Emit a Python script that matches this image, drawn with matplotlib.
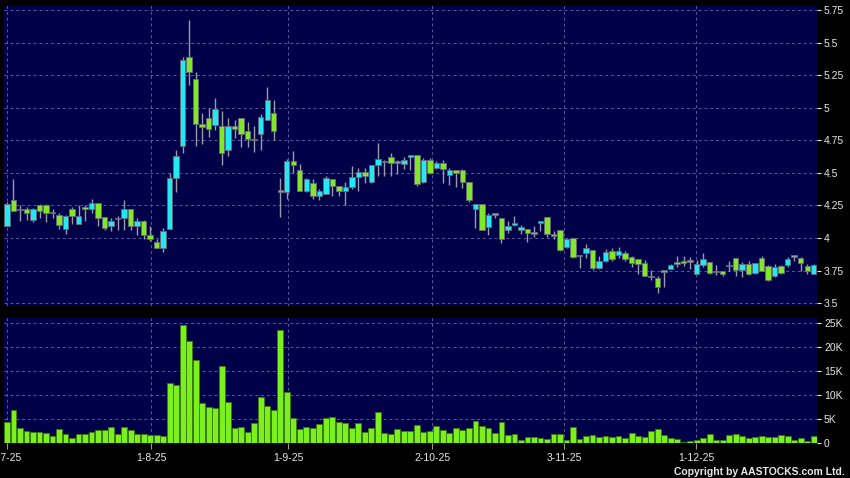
import matplotlib
matplotlib.use("Agg")
import matplotlib.pyplot as plt
import numpy as np
from matplotlib.ticker import FixedLocator, FuncFormatter

plt.rcParams['font.family'] = ['Liberation Sans', 'DejaVu Sans']

# ---------------- data ----------------
opens = [4.09, 4.29, 4.22, 4.22, 4.14, 4.25, 4.25, 4.20, 4.18, 4.07,
         4.22, 4.11, 4.24, 4.22, 4.27, 4.16, 4.09, 4.15, 4.15, 4.22,
         4.09, 4.13, 4.02, 3.97, 3.92, 4.07, 4.46, 4.71, 5.39, 5.22,
         4.88, 4.92, 4.87, 4.86, 4.68, 4.86, 4.92, 4.82, 4.755, 4.80,
         4.91, 4.96, 4.36, 4.35, 4.59, 4.52, 4.36, 4.42, 4.32, 4.34,
         4.45, 4.40, 4.36, 4.39, 4.47, 4.51, 4.43, 4.56, 4.59, 4.62,
         4.585, 4.57, 4.62, 4.635, 4.43, 4.60, 4.54, 4.58, 4.485, 4.52,
         4.52, 4.43, 4.22, 4.26, 4.085, 4.185, 4.15, 4.06, 4.10, 4.06,
         4.07, 4.04, 4.115, 4.16, 4.025, 4.06, 3.93, 4.00, 3.865, 3.885,
         3.905, 3.77, 3.82, 3.90, 3.87, 3.885, 3.855, 3.835, 3.805, 3.705,
         3.695, 3.745, 3.765, 3.80, 3.825, 3.825, 3.72, 3.79, 3.815, 3.737,
         3.745, 3.79, 3.85, 3.755, 3.80, 3.73, 3.85, 3.785, 3.705, 3.785,
         3.79, 3.86, 3.85, 3.785, 3.725]
highs = [4.28, 4.45, 4.25, 4.24, 4.23, 4.26, 4.26, 4.22, 4.19, 4.18,
         4.24, 4.25, 4.25, 4.30, 4.27, 4.16, 4.15, 4.17, 4.29, 4.22,
         4.15, 4.14, 4.09, 3.99, 4.08, 4.50, 4.68, 5.39, 5.68, 5.28,
         4.96, 5.00, 5.08, 4.98, 4.92, 4.91, 4.92, 4.89, 4.86, 4.95,
         5.16, 5.06, 4.46, 4.61, 4.67, 4.57, 4.46, 4.45, 4.38, 4.48,
         4.45, 4.40, 4.43, 4.55, 4.54, 4.54, 4.56, 4.73, 4.60, 4.65,
         4.60, 4.62, 4.64, 4.635, 4.615, 4.615, 4.59, 4.60, 4.54, 4.52,
         4.53, 4.43, 4.26, 4.26, 4.19, 4.19, 4.15, 4.13, 4.17, 4.10,
         4.07, 4.095, 4.13, 4.16, 4.05, 4.065, 4.00, 4.00, 3.87, 3.955,
         3.905, 3.86, 3.915, 3.92, 3.93, 3.90, 3.865, 3.835, 3.83, 3.755,
         3.705, 3.745, 3.80, 3.86, 3.86, 3.855, 3.83, 3.885, 3.815, 3.79,
         3.75, 3.825, 3.85, 3.815, 3.825, 3.81, 3.86, 3.79, 3.80, 3.79,
         3.855, 3.865, 3.855, 3.80, 3.80]
lows = [4.09, 4.21, 4.13, 4.14, 4.12, 4.15, 4.12, 4.15, 4.07, 4.03,
        4.11, 4.11, 4.13, 4.19, 4.09, 4.06, 4.05, 4.06, 4.06, 4.06,
        4.02, 3.99, 3.98, 3.92, 3.89, 4.07, 4.35, 4.65, 5.18, 4.71,
        4.72, 4.78, 4.83, 4.56, 4.63, 4.77, 4.70, 4.70, 4.66, 4.68,
        4.91, 4.75, 4.16, 4.30, 4.50, 4.36, 4.35, 4.30, 4.29, 4.34,
        4.32, 4.32, 4.25, 4.38, 4.36, 4.42, 4.42, 4.48, 4.48, 4.48,
        4.49, 4.53, 4.52, 4.40, 4.42, 4.495, 4.53, 4.42, 4.41, 4.39,
        4.385, 4.28, 4.08, 4.06, 4.02, 4.15, 3.96, 4.04, 4.09, 4.03,
        3.97, 4.01, 4.05, 4.01, 3.99, 3.90, 3.92, 3.85, 3.77, 3.845,
        3.755, 3.76, 3.815, 3.82, 3.845, 3.825, 3.78, 3.72, 3.705, 3.675,
        3.58, 3.62, 3.765, 3.78, 3.785, 3.765, 3.72, 3.78, 3.72, 3.715,
        3.705, 3.745, 3.705, 3.70, 3.715, 3.725, 3.745, 3.67, 3.70, 3.72,
        3.78, 3.825, 3.75, 3.725, 3.725]
closes = [4.26, 4.21, 4.22, 4.19, 4.22, 4.21, 4.19, 4.19, 4.10, 4.17,
          4.17, 4.17, 4.22, 4.27, 4.15, 4.08, 4.13, 4.15, 4.22, 4.09,
          4.13, 4.02, 3.99, 3.92, 4.05, 4.46, 4.63, 5.37, 5.28, 4.88,
          4.85, 4.84, 4.99, 4.65, 4.86, 4.84, 4.80, 4.76, 4.75, 4.93,
          5.06, 4.82, 4.36, 4.59, 4.56, 4.36, 4.45, 4.32, 4.36, 4.46,
          4.40, 4.36, 4.39, 4.47, 4.51, 4.48, 4.56, 4.61, 4.59, 4.58,
          4.585, 4.60, 4.635, 4.415, 4.60, 4.50, 4.58, 4.53, 4.52, 4.50,
          4.43, 4.29, 4.26, 4.06, 4.18, 4.185, 3.99, 4.09, 4.11, 4.085,
          4.04, 4.04, 4.13, 4.03, 4.025, 3.905, 3.99, 3.855, 3.865, 3.92,
          3.77, 3.82, 3.89, 3.835, 3.90, 3.835, 3.805, 3.80, 3.705, 3.705,
          3.62, 3.745, 3.79, 3.815, 3.805, 3.825, 3.80, 3.835, 3.73, 3.747,
          3.72, 3.79, 3.755, 3.80, 3.72, 3.805, 3.75, 3.68, 3.78, 3.73,
          3.835, 3.86, 3.805, 3.745, 3.79]
volumes_k = [4.4, 6.9, 3.1, 2.5, 2.3, 2.4, 2.2, 1.6, 2.9, 1.9,
             1.0, 2.0, 2.0, 2.4, 2.8, 2.8, 3.4, 2.0, 3.3, 2.7,
             1.9, 1.9, 1.7, 1.7, 1.5, 12.6, 12.2, 24.6, 21.3, 17.3,
             8.3, 7.6, 7.4, 16.2, 8.5, 3.1, 3.4, 2.3, 4.2, 9.6,
             7.8, 7.0, 23.5, 10.6, 5.3, 3.0,
             3.4, 3.1, 4.0, 5.3, 5.5, 4.5, 4.3, 3.2, 4.2, 2.4,
             3.1, 6.5, 2.2, 1.9, 3.0, 2.6, 2.6, 3.75, 2.3, 2.6,
             3.5, 2.8, 2.2, 3.2, 2.8, 3.1, 4.7, 3.6, 3.1, 2.1,
             4.4, 1.7, 1.9, 0.7, 1.4, 1.25, 1.2, 0.9, 2.0, 1.9,
             0.75, 3.4, 0.8,
             1.5, 1.7, 1.3, 1.5, 1.3, 1.5, 1.1, 2.2, 1.5, 1.3,
             2.5, 3.0, 1.7, 1.1, 0.8, 0.35, 0.4, 0.6, 1.0, 1.9,
             0.7, 0.7, 1.7, 1.9, 1.5, 1.0, 1.4, 1.6, 1.3, 1.3,
             1.7, 1.5, 0.7, 1.0, 0.55, 1.5]

date_labels = ["2-7-25", "1-8-25", "1-9-25", "2-10-25", "3-11-25", "1-12-25"]
date_pos = [0, 22.2, 43.2, 65.4, 85.6, 105.9]
price_ticks = [3.5, 3.75, 4.0, 4.25, 4.5, 4.75, 5.0, 5.25, 5.5, 5.75]
vol_ticks = [0, 5, 10, 15, 20, 25]

n = len(closes)
assert len(opens) == n and len(highs) == n and len(lows) == n and len(volumes_k) == n

# ---------------- style ----------------
BG = '#000048'
UP = '#22e8f2'
DN = '#80e826'
FLAT = '#9a9aa8'
GRID = '#5a5aa0'
TXT = '#e8e8e8'

fig = plt.figure(figsize=(8.5, 4.78), dpi=100, facecolor='black')
W, H = 850.0, 478.0
ax = fig.add_axes([4 / W, 1 - 306 / H, (817 - 4) / W, (306 - 5) / H])
axv = fig.add_axes([4 / W, 1 - 443.3 / H, (817 - 4) / W, (443.3 - 318) / H])

x = np.arange(n)
o = np.array(opens); c = np.array(closes); h = np.array(highs); l = np.array(lows)
up = c > o
dn = c < o
fl = ~(up | dn)

for a in (ax, axv):
    a.set_facecolor(BG)
    for s in a.spines.values():
        s.set_visible(False)
    a.set_xlim(-0.46, 124.5)
    a.xaxis.set_major_locator(FixedLocator(date_pos))
    a.grid(True, color=GRID, linestyle=(0, (3, 3)), linewidth=0.7)
    a.set_axisbelow(True)
    a.yaxis.tick_right()

# candles
ax.vlines(x, l, h, color=FLAT, linewidth=1.0, zorder=2)
bw = 0.84
body_lo = np.minimum(o, c)
body_h = np.maximum(np.abs(c - o), 0.012)
colors = np.where(up, UP, np.where(dn, DN, FLAT))
ax.bar(x, body_h, bottom=np.where(fl, o - 0.006, body_lo), width=bw,
       color=colors, edgecolor='#6a6a7a', linewidth=0.6, zorder=3)

ax.set_ylim(3.477, 5.792)
ax.yaxis.set_major_locator(FixedLocator(price_ticks))
ax.yaxis.set_major_formatter(FuncFormatter(lambda v, p: '{:g}'.format(v)))
ax.tick_params(axis='y', colors=TXT, length=3, width=0.8, pad=2, labelsize=7.5)
ax.tick_params(axis='x', length=0, labelbottom=False)

# volume
axv.bar(x, volumes_k, width=0.9, color='#7cf01c', edgecolor='#3a7a0e',
        linewidth=0.6, zorder=3)
axv.set_ylim(0, 26.1)
axv.yaxis.set_major_locator(FixedLocator(vol_ticks))
axv.yaxis.set_major_formatter(FuncFormatter(lambda v, p: '0' if v == 0 else '{:g}K'.format(v)))
axv.tick_params(axis='y', colors=TXT, length=3, width=0.8, pad=2, labelsize=7.5)
axv.set_xticklabels(date_labels)
axv.tick_params(axis='x', colors='#9a9a9a', labelcolor=TXT, length=4, width=0.8,
                pad=3, labelsize=7.5)

fig.text(845 / W, 1 - 472 / H, 'Copyright by AASTOCKS.com Ltd.', ha='right',
         va='center', fontsize=7.5, fontweight='bold', color=TXT)

fig.savefig('out.png', dpi=100, facecolor='black')
